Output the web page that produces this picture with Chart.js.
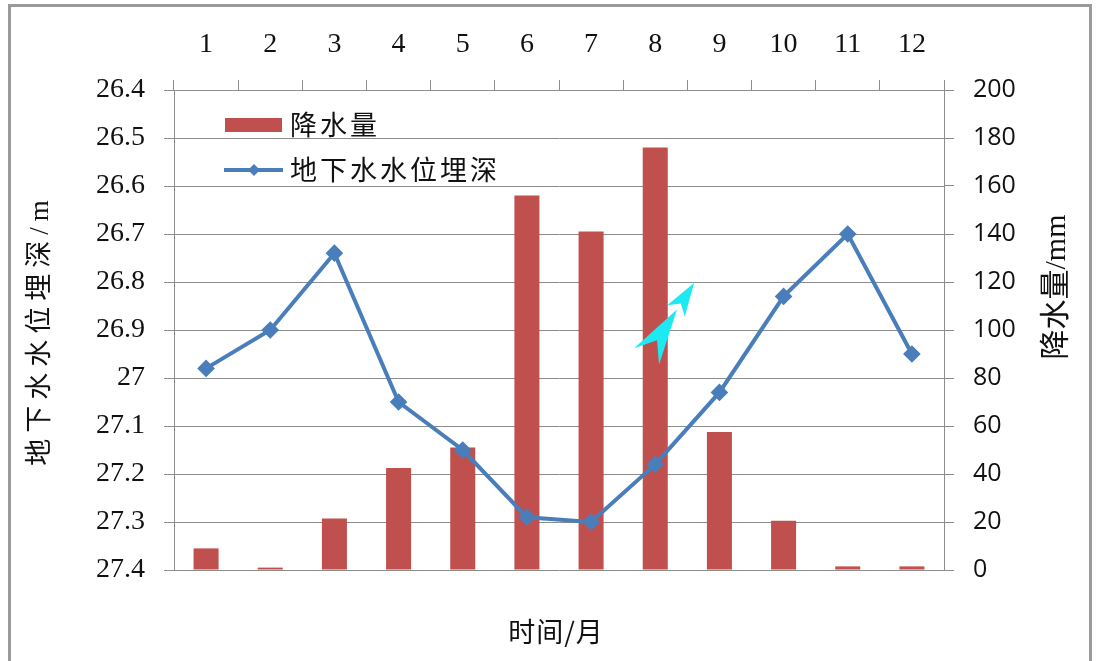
<!DOCTYPE html>
<html>
<head>
<meta charset="utf-8">
<script src="https://cdn.jsdelivr.net/npm/chart.js@4"></script>
<style>
  html, body { margin: 0; padding: 0; background: #fff; }
  #wrap { position: relative; width: 1099px; height: 661px; overflow: hidden; }
  #frame { position: absolute; left: 8px; top: 4px; width: 1084px; height: 700px; border: 3px solid #9a9a9a; box-sizing: border-box; pointer-events: none; }
  canvas { position: absolute; left: 0; top: 0; }
</style>
</head>
<body>
<div id="wrap">
  <canvas id="chart" width="1099" height="661"></canvas>
  <div id="frame"></div>
</div>
<script>
// months on the top axis
const months = ['1', '2', '3', '4', '5', '6', '7', '8', '9', '10', '11', '12'];
// monthly precipitation, mm (right axis)
const rainfall = [9, 1, 21.5, 42.5, 51, 156, 141, 176, 57.5, 20.5, 1.5, 1.5];
// groundwater depth below surface, m (left axis, reversed)
const depth = [26.98, 26.90, 26.74, 27.05, 27.15, 27.29, 27.30, 27.18, 27.03, 26.83, 26.70, 26.95];
// left axis tick labels, 26.4 .. 27.4
const depthTicks = ['26.4', '26.5', '26.6', '26.7', '26.8', '26.9', '27', '27.1', '27.2', '27.3', '27.4'];
// cyan arrow, from/to as [month index, mm]
const arrowFrom = [6.865, 89];
const arrowTo = [7.605, 119.6];

const RED = '#C0504D';
const BLUE = '#4A7EBB';
const GRID = '#8c8c8c';
const SERIF = '"Liberation Serif", "Times New Roman", serif';
const CJK = '"Noto Sans CJK SC", sans-serif';
const MIXED = '"Liberation Serif", "Noto Sans CJK SC", serif';

function diamond(ctx, x, y, r) {
    ctx.beginPath();
    ctx.moveTo(x, y - r);
    ctx.lineTo(x + r, y);
    ctx.lineTo(x, y + r);
    ctx.lineTo(x - r, y);
    ctx.closePath();
    ctx.fill();
}

const extras = {
    id: 'extras',
    afterDraw(chart) {
        const ctx = chart.ctx;
        const x = chart.scales.x, y1 = chart.scales.y1;
        ctx.save();

        // arrow: two chevrons along the from->to direction
        const ax = x.getPixelForValue(arrowFrom[0]), ay = y1.getPixelForValue(arrowFrom[1]);
        const bx = x.getPixelForValue(arrowTo[0]), by = y1.getPixelForValue(arrowTo[1]);
        const L = Math.hypot(bx - ax, by - ay);
        const ux = (bx - ax) / L, uy = (by - ay) / L;
        const nx = -uy, ny = ux;
        const pt = (s, p) => [ax + ux * s * L + nx * p * L, ay + uy * s * L + ny * p * L];
        const chevron = (wing, tip, notch, half) => {
            const a = pt(wing, -half), t = pt(tip, 0), b = pt(wing, half), n = pt(notch, 0);
            ctx.beginPath();
            ctx.moveTo(a[0], a[1]);
            ctx.lineTo(t[0], t[1]);
            ctx.lineTo(b[0], b[1]);
            ctx.lineTo(n[0], n[1]);
            ctx.closePath();
            ctx.fill();
        };
        ctx.fillStyle = '#1de9f2';
        chevron(0, 0.64, 0.22, 0.17);
        chevron(0.62, 1, 0.72, 0.12);

        // legend inside the plot
        const lx = chart.chartArea.left + 51, ly = chart.chartArea.top + 28;
        ctx.fillStyle = RED;
        ctx.fillRect(lx, ly, 57, 14);
        ctx.strokeStyle = BLUE;
        ctx.lineWidth = 4;
        ctx.beginPath();
        ctx.moveTo(lx - 1, ly + 52);
        ctx.lineTo(lx + 58, ly + 52);
        ctx.stroke();
        ctx.fillStyle = BLUE;
        diamond(ctx, lx + 29, ly + 52, 6);
        ctx.fillStyle = '#111';
        ctx.font = '27px ' + CJK;
        ctx.textBaseline = 'middle';
        ctx.textAlign = 'left';
        ctx.letterSpacing = '3px';
        ctx.fillText(chart.data.datasets[0].label, lx + 65, ly + 7);
        ctx.fillText(chart.data.datasets[1].label, lx + 65, ly + 52);

        // axis titles
        ctx.textAlign = 'center';
        ctx.save();
        ctx.translate(41, 333);
        ctx.rotate(-Math.PI / 2);
        ctx.font = '27px ' + MIXED;
        ctx.letterSpacing = '6px';
        ctx.fillText('地下水水位埋深/m', 3, 0);
        ctx.restore();

        ctx.save();
        ctx.translate(1057, 287);
        ctx.rotate(-Math.PI / 2);
        ctx.font = '30px ' + MIXED;
        ctx.letterSpacing = '0px';
        ctx.fillText('降水量/mm', 0, 0);
        ctx.restore();

        ctx.font = '27px ' + CJK;
        ctx.letterSpacing = '1px';
        ctx.fillText('时间/月', 556, 632);
        ctx.restore();
    }
};

new Chart(document.getElementById('chart'), {
    data: {
        labels: months,
        datasets: [
            {
                type: 'bar',
                label: '降水量',
                data: rainfall,
                yAxisID: 'y1',
                backgroundColor: RED,
                barPercentage: 0.39,
                categoryPercentage: 1,
                order: 1
            },
            {
                type: 'line',
                label: '地下水水位埋深',
                data: depth,
                yAxisID: 'y',
                borderColor: BLUE,
                borderWidth: 4,
                tension: 0,
                pointStyle: 'rectRot',
                pointRadius: 6,
                pointBackgroundColor: BLUE,
                pointBorderColor: BLUE,
                order: 0
            }
        ]
    },
    options: {
        responsive: false,
        animation: false,
        devicePixelRatio: 1,
        layout: { padding: { top: 0, bottom: 91, left: 0, right: 0 } },
        plugins: {
            legend: { display: false },
            tooltip: { enabled: false }
        },
        scales: {
            x: {
                position: 'top',
                offset: true,
                grid: { offset: true, drawOnChartArea: false, tickLength: 10, color: GRID },
                border: { color: GRID },
                ticks: { font: { family: SERIF, size: 28 }, color: '#111', padding: 19, maxRotation: 0 },
                afterFit: s => { s.height = 90; }
            },
            y: {
                position: 'left',
                reverse: true,
                min: 26.4,
                max: 27.4,
                grid: { color: GRID, tickLength: 10 },
                border: { color: GRID },
                ticks: {
                    stepSize: 0.1,
                    font: { family: SERIF, size: 28 },
                    color: '#111',
                    padding: 19,
                    callback: v => depthTicks[Math.round((v - 26.4) * 10)]
                },
                afterFit: s => { s.width = 174; }
            },
            y1: {
                position: 'right',
                min: 0,
                max: 200,
                grid: { drawOnChartArea: false, color: GRID, tickLength: 10 },
                border: { color: GRID },
                ticks: { stepSize: 20, font: { family: '"Open Sans", sans-serif', size: 25 }, color: '#111', padding: 19 },
                afterFit: s => { s.width = 155; }
            }
        }
    },
    plugins: [extras]
});
</script>
</body>
</html>
